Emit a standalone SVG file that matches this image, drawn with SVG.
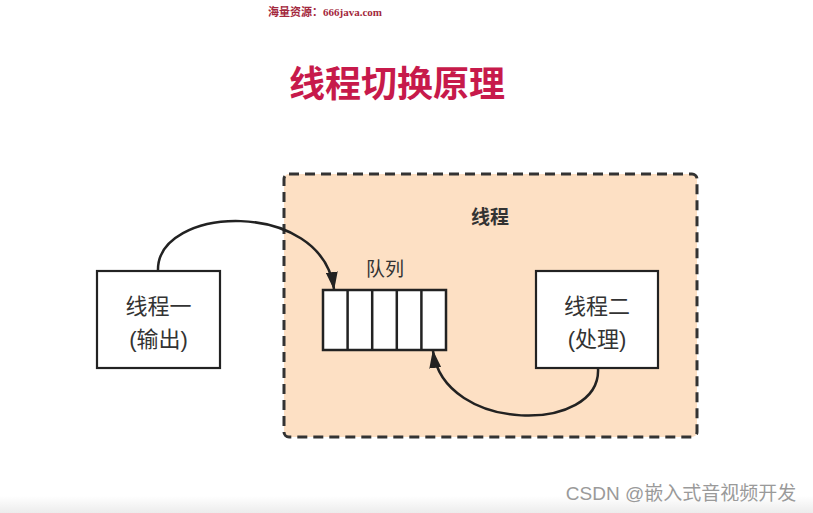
<svg xmlns="http://www.w3.org/2000/svg" width="813" height="513" viewBox="0 0 813 513">
<style>
.cjk{font-family:"Liberation Sans","Noto Sans CJK SC",sans-serif;}
.box{fill:#fff;stroke:#222;stroke-width:2.2;}
.lbl{font-size:22px;fill:#333;text-anchor:middle;}
.conn{fill:none;stroke:#222;stroke-width:2.5;}
</style>
<defs>
<marker id="ah" viewBox="0 0 18 12" refX="17" refY="6" markerWidth="18" markerHeight="12" orient="auto" markerUnits="userSpaceOnUse">
<path d="M0,0 L18,6 L0,12 z" fill="#222"/>
</marker>
<linearGradient id="bot" x1="0" y1="0" x2="0" y2="1">
<stop offset="0" stop-color="#fff"/>
<stop offset="1" stop-color="#ececec"/>
</linearGradient>
</defs>
<rect width="813" height="513" fill="#fff"/>
<rect x="0" y="496" width="813" height="17" fill="url(#bot)"/>
<text x="325" y="16" text-anchor="middle" font-family="Liberation Serif,Noto Sans CJK SC,serif" font-size="11" font-weight="bold" fill="#a3283d">海量资源：666java.com</text>
<text x="397" y="97" text-anchor="middle" class="cjk" font-size="36" font-weight="bold" fill="#c71a4b">线程切换原理</text>
<g id="container">
<rect x="284" y="174" width="413" height="263" rx="5" fill="#fde0c4" stroke="#333" stroke-width="3" stroke-dasharray="10,6"/>
<text x="490" y="224" text-anchor="middle" class="cjk" font-size="19" font-weight="bold" fill="#333">线程</text>
</g>
<g id="thread1">
<rect class="box" x="97" y="271" width="123" height="97"/>
<text class="cjk lbl" x="158.5" y="314">线程一</text>
<text class="cjk lbl" x="158.5" y="347">(输出)</text>
</g>
<g id="queue">
<text class="cjk" x="385" y="276" text-anchor="middle" font-size="19" fill="#333">队列</text>
<rect x="323" y="290" width="123" height="60" fill="#fff" stroke="#222" stroke-width="2.5"/>
<path d="M347.6,290 V350 M372.2,290 V350 M396.8,290 V350 M421.4,290 V350" stroke="#222" stroke-width="2.5"/>
</g>
<g id="thread2">
<rect class="box" x="536" y="271" width="122" height="97"/>
<text class="cjk lbl" x="597" y="314">线程二</text>
<text class="cjk lbl" x="597" y="347">(处理)</text>
</g>
<g id="connectors">
<path class="conn" d="M158,271 C156,205 322,198 334,289" marker-end="url(#ah)"/>
<path class="conn" d="M598,368 C602,434 444,434 433,351" marker-end="url(#ah)"/>
</g>
<text x="681" y="500" text-anchor="middle" class="cjk" font-size="19" fill="#9a9a9a">CSDN @嵌入式音视频开发</text>
</svg>
